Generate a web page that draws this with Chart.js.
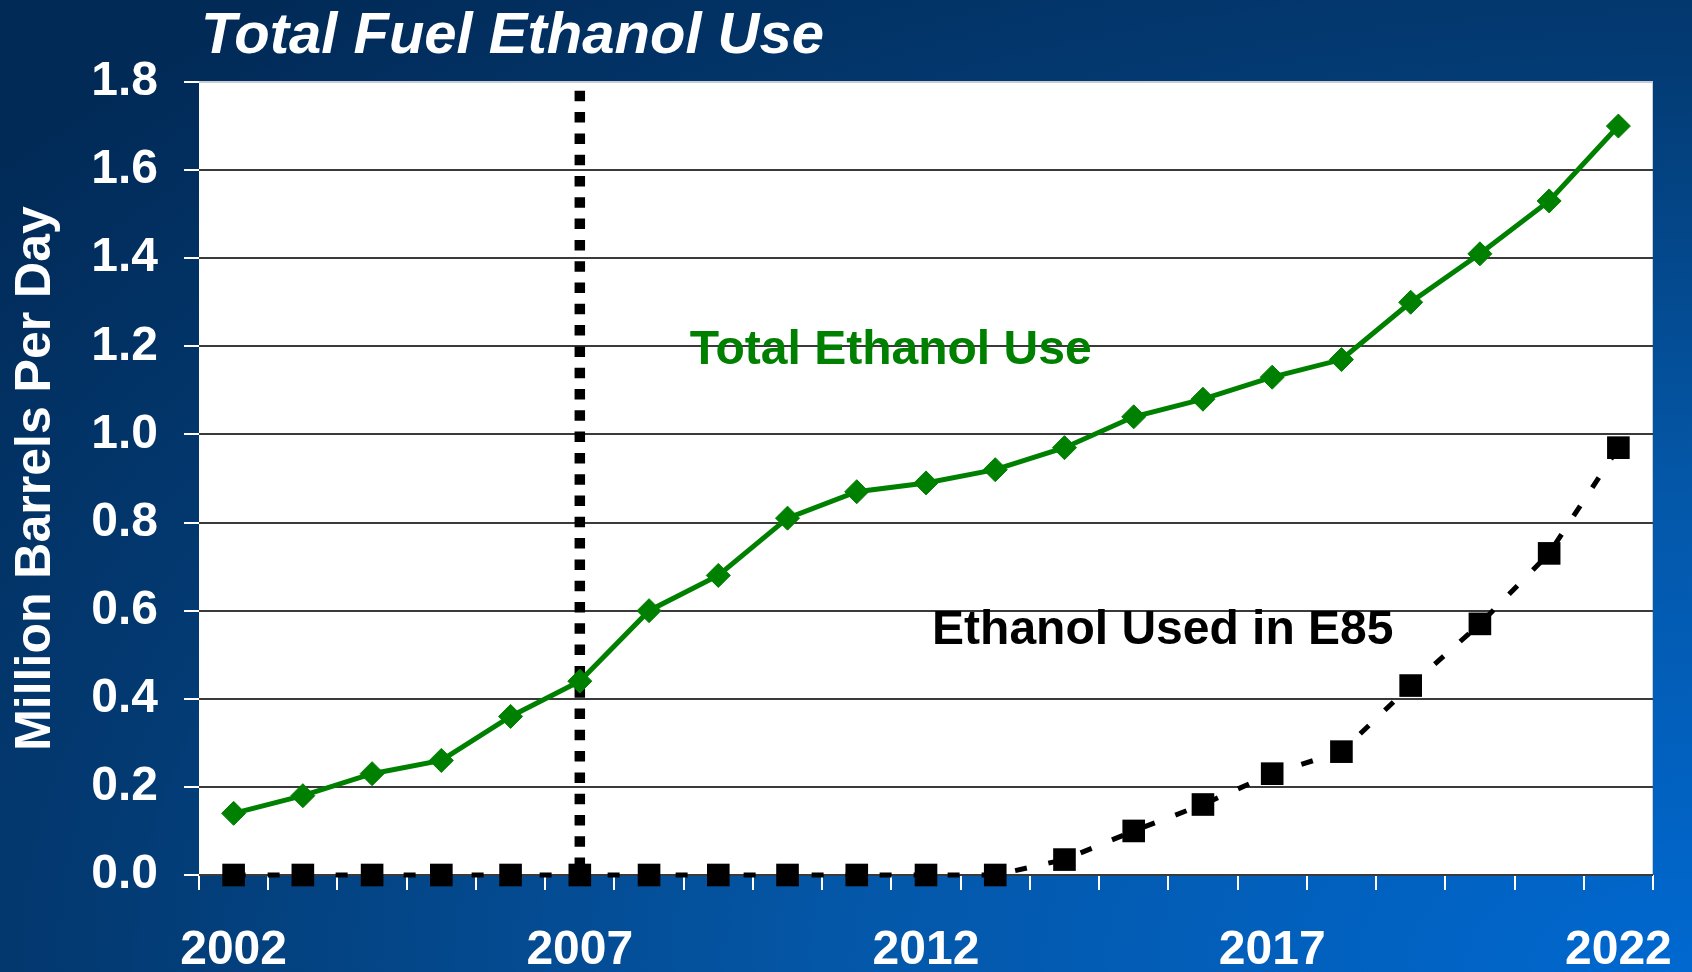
<!DOCTYPE html>
<html>
<head>
<meta charset="utf-8">
<title>Total Fuel Ethanol Use</title>
<script src="https://cdn.jsdelivr.net/npm/chart.js@4.4.1/dist/chart.umd.min.js"></script>
<style>
  html, body { margin: 0; padding: 0; }
  #wrap {
    position: relative;
    width: 1692px;
    height: 972px;
    overflow: hidden;
    background: radial-gradient(ellipse 1692px 972px at 100% 100%, #0068d0 0%, #0457a8 50%, #033a72 95%, #012a57 130%);
  }
  #titulo {
    position: absolute;
    left: 201px;
    top: 4px;
    margin: 0;
    font-family: "Liberation Sans", Arial, sans-serif;
    font-weight: bold;
    font-style: italic;
    font-size: 58px;
    line-height: 1;
    color: #ffffff;
  }
  canvas { position: absolute; left: 0; top: 0; }
</style>
</head>
<body>
<div id="wrap">
  <h1 id="titulo">Total Fuel Ethanol Use</h1>
  <canvas id="chartEtanol" width="1692" height="972"></canvas>
</div>
<script>
const anos = ['2002','2003','2004','2005','2006','2007','2008','2009','2010','2011','2012',
              '2013','2014','2015','2016','2017','2018','2019','2020','2021','2022'];
const totalEtanol = [0.14, 0.18, 0.23, 0.26, 0.36, 0.44, 0.60, 0.68, 0.81, 0.87, 0.89,
                     0.92, 0.97, 1.04, 1.08, 1.13, 1.17, 1.30, 1.41, 1.53, 1.70];
const etanolE85 = [0, 0, 0, 0, 0, 0, 0, 0, 0, 0, 0,
                   0, 0.035, 0.10, 0.16, 0.23, 0.28, 0.43, 0.57, 0.73, 0.97];
const anosRotulo = ['2002', '2007', '2012', '2017', '2022'];
// linha vertical pontilhada em 2007
const marcoAno = '2007';
const marcoTopo = 1.78;
// textos dentro do grafico: [texto, posicao x (indice), valor y, cor]
const rotulos = [
    ['Total Ethanol Use', 9.49, 1.19, '#008000'],
    ['Ethanol Used in E85', 13.42, 0.555, '#000000']
];

const fonte = '"Liberation Sans", Arial, sans-serif';

const fundoPlot = {
    id: 'fundoPlot',
    beforeDraw(chart) {
        const a = chart.chartArea;
        const ctx = chart.ctx;
        ctx.save();
        ctx.fillStyle = '#ffffff';
        ctx.fillRect(a.left, a.top, a.right - a.left, a.bottom - a.top);
        ctx.strokeStyle = '#c8ccd4';
        ctx.lineWidth = 1;
        ctx.beginPath();
        ctx.moveTo(a.left, a.top + 0.5);
        ctx.lineTo(a.right - 0.5, a.top + 0.5);
        ctx.lineTo(a.right - 0.5, a.bottom);
        ctx.stroke();
        ctx.restore();
    },
    afterDatasetsDraw(chart) {
        const ctx = chart.ctx;
        const x = chart.scales.x;
        const y = chart.scales.y;
        ctx.save();
        ctx.font = 'bold 48px ' + fonte;
        ctx.textAlign = 'center';
        ctx.textBaseline = 'middle';
        rotulos.forEach(function (r) {
            ctx.fillStyle = r[3];
            ctx.fillText(r[0], x.getPixelForValue(r[1]), y.getPixelForValue(r[2]));
        });
        ctx.restore();
    }
};

document.addEventListener("DOMContentLoaded", function () {
    new Chart(document.getElementById('chartEtanol'), {
        type: 'line',
        data: {
            labels: anos,
            datasets: [{
                label: 'Total Ethanol Use',
                data: totalEtanol,
                borderColor: '#008000',
                backgroundColor: '#008000',
                borderWidth: 5,
                pointStyle: 'rectRot',
                pointRadius: 12,
                pointBorderWidth: 1,
                order: 1
            }, {
                label: 'Ethanol Used in E85',
                data: etanolE85,
                borderColor: '#000000',
                backgroundColor: '#000000',
                borderWidth: 5,
                borderDash: [12, 22],
                pointStyle: 'rect',
                pointRadius: 16,
                pointBorderWidth: 0,
                clip: false,
                order: 2
            }, {
                label: 'marco',
                data: [{ x: marcoAno, y: marcoTopo }, { x: marcoAno, y: 0 }],
                borderColor: '#000000',
                borderWidth: 10.5,
                borderDash: [10.5, 10.8],
                borderCapStyle: 'butt',
                pointRadius: 0,
                order: 3
            }]
        },
        options: {
            responsive: false,
            animation: false,
            layout: { padding: { top: 82, right: 39, left: 0, bottom: 0 } },
            plugins: {
                legend: { display: false },
                tooltip: { enabled: false },
                title: { display: false }
            },
            scales: {
                x: {
                    offset: true,
                    afterFit: function (s) {
                        s.height = 97;
                        s.paddingRight = 0;
                        s.paddingLeft = 0;
                    },
                    border: { display: false },
                    grid: {
                        offset: true,
                        drawOnChartArea: false,
                        tickColor: '#ffffff',
                        tickLength: 15,
                        lineWidth: 2
                    },
                    ticks: {
                        autoSkip: false,
                        maxRotation: 0,
                        padding: 32,
                        color: '#ffffff',
                        font: { family: fonte, size: 48, weight: 'bold' },
                        callback: function (v) {
                            const a = this.getLabelForValue(v);
                            return anosRotulo.includes(a) ? a : '';
                        }
                    }
                },
                y: {
                    min: 0,
                    max: 1.8,
                    afterFit: function (s) {
                        s.width = 199;
                        s.paddingTop = 0;
                        s.paddingBottom = 0;
                    },
                    border: { display: false },
                    grid: {
                        color: function (c) { return c.tick && c.tick.value >= 1.79 ? '#c8ccd4' : '#3a3a3a'; },
                        lineWidth: 2,
                        tickColor: '#ffffff',
                        tickLength: 15
                    },
                    ticks: {
                        stepSize: 0.2,
                        padding: 26,
                        color: '#ffffff',
                        font: { family: fonte, size: 48, weight: 'bold' },
                        callback: function (v) { return v.toFixed(1); }
                    },
                    title: {
                        display: true,
                        text: 'Million Barrels Per Day',
                        color: '#ffffff',
                        padding: { top: 6, bottom: 0 },
                        font: { family: fonte, size: 50, weight: 'bold' }
                    }
                }
            }
        },
        plugins: [fundoPlot]
    });
});
</script>
</body>
</html>
